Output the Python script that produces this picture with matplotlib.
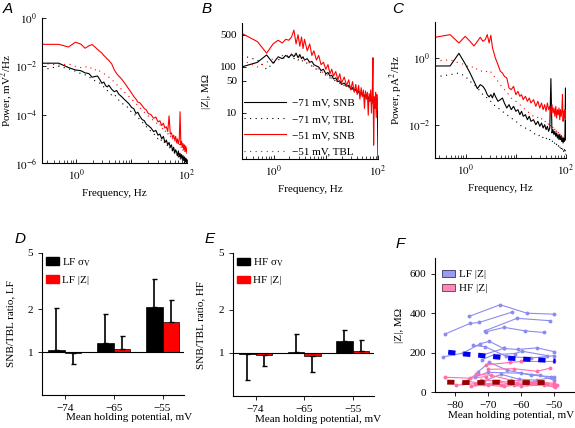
import numpy as np
import matplotlib
matplotlib.use("Agg")
import matplotlib.pyplot as plt
from matplotlib.patches import Patch
from matplotlib.ticker import NullFormatter, NullLocator, FixedLocator

plt.rcParams['font.family'] = ['Liberation Serif', 'DejaVu Serif']
plt.rcParams['mathtext.fontset'] = 'stix'
plt.rcParams['font.size'] = 8

# ---------------- data ----------------
# frequency grid of the spectra, Hz
freq = [0.244, 0.488, 0.732, 0.977, 1.22, 1.46, 1.71, 1.95, 2.2, 2.44, 2.69, 2.93, 3.17, 3.42, 3.66, 3.9,
        4.4, 4.9, 5.4, 5.9, 6.6, 7.3, 8.1, 9.0,
        10, 11, 12, 13, 14, 15.5, 17, 18.5, 20,
        22.5, 25, 27.5, 30, 32.5, 35, 37.5, 40, 42.5, 45, 47.5, 50, 52.5, 55, 57.5, 60,
        62.5, 65, 67.5, 70, 72.5, 75, 77.5, 80, 82.5, 85, 87.5, 90, 92.5, 95, 97.5, 100]

# panel A: log10 voltage power, mV^2/Hz
a_snb71 = [-1.87, -1.87, -2.05, -2.15, -2.18, -2.27, -2.3, -2.45, -2.42, -2.4, -2.55, -2.7, -2.65, -2.8, -2.85, -2.78,
           -2.95, -3.05, -3.0, -3.15, -3.25, -3.35, -3.45, -3.55,
           -3.7, -3.75, -3.95, -3.9, -4.05, -4.2, -4.25, -4.4, -4.45,
           -4.55, -4.7, -4.65, -4.85, -4.8, -5.0, -4.9, -5.15, -5.05, -5.25, -5.15, -5.35, -5.25, -5.5, -5.35, -5.6,
           -5.45, -5.55, -5.7, -5.5, -5.75, -5.6, -5.8, -5.65, -5.85, -5.7, -5.9, -5.75, -5.95, -5.8, -5.98, -5.85]
a_tbl71 = [-2.15, -2.0, -2.1, -2.2, -2.3, -2.35, -2.45, -2.5, -2.6, -2.65, -2.7, -2.8, -2.85, -2.9, -3.0, -3.05,
           -3.2, -3.15, -3.3, -3.4, -3.5, -3.6, -3.65, -3.75,
           -3.9, -3.95, -4.05, -4.1, -4.2, -4.3, -4.4, -4.5, -4.55,
           -4.7, -4.8, -4.85, -5.0, -4.95, -5.1, -5.05, -5.2, -5.3, -5.25, -5.4, -5.35, -5.5, -5.45, -5.6, -5.55,
           -5.65, -5.7, -5.6, -5.75, -5.7, -5.85, -5.8, -5.9, -5.85, -5.95, -5.9, -6.0, -5.95, -6.0, -5.98, -6.0]
a_snb51 = [-1.09, -1.09, -1.2, -1.0, -1.08, -1.25, -1.15, -1.1, -1.2, -1.3, -1.38, -1.45, -1.55, -1.62, -1.7, -1.75,
           -1.9, -2.15, -2.3, -2.4, -2.52, -2.65, -2.8, -2.95,
           -3.1, -3.25, -3.35, -3.48, -3.5, -3.62, -3.75, -3.8, -3.95,
           -4.0, -4.15, -4.1, -4.3, -4.25, -4.45, -4.35, -4.55, -4.5, -4.7, -4.05, -4.8, -4.75, -4.95, -4.85, -5.05,
           -4.9, -5.15, -5.0, -5.2, -5.05, -3.88, -5.25, -5.1, -5.35, -5.2, -5.45, -5.25, -5.5, -5.3, -5.55, -5.4]
a_tbl51 = [-1.87, -1.95, -1.9, -2.0, -2.05, -2.0, -2.1, -2.05, -2.15, -2.1, -2.2, -2.25, -2.3, -2.35, -2.4, -2.45,
           -2.55, -2.65, -2.75, -2.85, -2.95, -3.05, -3.15, -3.25,
           -3.35, -3.45, -3.55, -3.6, -3.7, -3.8, -3.9, -3.95, -4.05,
           -4.15, -4.25, -4.3, -4.45, -4.4, -4.6, -4.55, -4.7, -4.65, -4.8, -4.75, -4.9, -4.85, -5.0, -4.95, -5.1,
           -5.05, -5.2, -5.15, -5.25, -5.2, -5.35, -5.3, -5.4, -5.35, -5.5, -5.45, -5.55, -5.5, -5.6, -5.55, -5.65]

# panel B: log10 |Z|, MOhm
b_snb71 = [2.0, 2.1, 2.26, 2.08, 2.22, 2.18, 2.25, 2.2, 2.28, 2.22, 2.3, 2.2, 2.27, 2.18, 2.22, 2.15,
           2.18, 2.1, 2.12, 2.05, 2.02, 2.0, 1.92, 1.95,
           1.85, 1.88, 1.8, 1.82, 1.74, 1.76, 1.68, 1.7, 1.62,
           1.65, 1.58, 1.6, 1.52, 1.55, 1.48, 1.52, 1.44, 1.48, 1.4, 1.45, 1.38, 1.42, 1.35, 1.4, 1.32,
           1.38, 1.3, 1.35, 1.28, 1.33, 1.25, 1.3, 1.22, 1.28, 1.2, 1.26, 1.18, 1.24, 1.15, 1.2, 0.02]
b_tbl71 = [2.25, 2.15, 1.95, 2.08, 2.15, 2.2, 2.18, 2.22, 2.2, 2.18, 2.2, 2.15, 2.17, 2.12, 2.14, 2.1,
           2.08, 2.04, 2.02, 1.98, 1.95, 1.92, 1.88, 1.86,
           1.82, 1.8, 1.76, 1.75, 1.72, 1.7, 1.66, 1.65, 1.6,
           1.6, 1.55, 1.57, 1.5, 1.52, 1.46, 1.49, 1.42, 1.46, 1.38, 1.42, 1.36, 1.4, 1.33, 1.37, 1.3,
           1.35, 1.28, 1.32, 1.25, 1.3, 1.23, 1.28, 1.2, 1.25, 1.18, 1.23, 1.15, 1.2, 1.12, 1.18, 1.1]
b_snb51 = [2.73, 2.55, 2.3, 2.5, 2.58, 2.52, 2.6, 2.58, 2.65, 2.8, 2.5, 2.7, 2.45, 2.65, 2.4, 2.6,
           2.35, 2.5, 2.25, 2.35, 2.15, 2.25, 2.05, 2.1,
           1.95, 2.05, 1.85, 1.95, 1.8, 1.9, 1.72, 1.85, 1.65,
           1.78, 1.6, 1.72, 1.5, 1.68, 1.45, 1.62, 1.4, 1.6, 1.3, 1.55, 1.35, 1.5, 1.1, 1.48, 1.3,
           1.45, 0.95, 1.42, 1.25, 1.5, 1.0, 1.4, 2.2, 0.3, 1.35, 1.1, 1.45, 0.9, 1.4, 1.05, 1.3]
b_tbl51 = [2.15, 2.0, 2.1, 2.18, 2.2, 2.25, 2.22, 2.28, 2.25, 2.3, 2.25, 2.27, 2.22, 2.2, 2.18, 2.15,
           2.12, 2.08, 2.05, 2.0, 1.98, 1.95, 1.9, 1.88,
           1.84, 1.82, 1.78, 1.76, 1.74, 1.7, 1.68, 1.66, 1.62,
           1.62, 1.57, 1.59, 1.52, 1.55, 1.48, 1.51, 1.45, 1.48, 1.4, 1.44, 1.38, 1.42, 1.35, 1.39, 1.32,
           1.36, 1.3, 1.34, 1.27, 1.32, 1.25, 1.3, 1.22, 1.27, 1.2, 1.25, 1.17, 1.22, 1.15, 1.2, 1.12]

# panel C: log10 current power, pA^2/Hz
c_snb71 = [-0.24, -0.24, 0.14, -0.18, -0.45, -0.7, -0.92, -0.8, -0.85, -0.95, -1.1, -1.17, -1.1, -1.2, -1.05, -1.15,
           -1.3, -1.25, -1.2, -1.35, -1.5, -1.4, -1.55, -1.45,
           -1.6, -1.55, -1.7, -1.6, -1.75, -1.7, -1.85, -1.75, -1.9,
           -1.85, -2.0, -1.9, -2.05, -1.95, -2.1, -2.0, -2.15, -2.05, -2.2, -2.1, -0.62, -2.25, -2.15, -2.3, -2.2,
           -2.35, -2.25, -2.4, -2.3, -2.45, -2.3, -2.45, -2.35, -2.5, -2.4, -2.55, -2.4, -2.5, -2.45, -0.9, -2.45]
c_tbl71 = [-0.57, -0.5, -0.45, -0.55, -0.7, -0.8, -0.9, -1.0, -1.1, -1.15, -1.2, -1.25, -1.3, -1.35, -1.4, -1.45,
           -1.5, -1.55, -1.6, -1.65, -1.7, -1.75, -1.8, -1.85,
           -1.9, -1.95, -2.0, -2.05, -2.05, -2.1, -2.15, -2.15, -2.2,
           -2.25, -2.3, -2.28, -2.35, -2.32, -2.4, -2.36, -2.42, -2.4, -2.48, -2.44, -2.5, -2.46, -2.55, -2.5, -2.58,
           -2.52, -2.6, -2.56, -2.65, -2.6, -2.7, -2.62, -2.72, -2.66, -2.75, -2.68, -2.8, -2.7, -2.85, -2.75, -2.9]
c_snb51 = [0.62, 0.70, 0.45, 0.65, 0.5, 0.36, 0.5, 0.62, 0.5, 0.55, 0.7, 0.45, 0.68, 0.3, 0.15, 0.0,
           -0.2, -0.4, -0.45, -0.55, -0.6, -0.9, -0.95, -0.85,
           -1.1, -1.0, -1.15, -1.1, -1.25, -1.15, -1.3, -1.2, -1.35,
           -1.25, -1.45, -1.3, -1.5, -1.35, -1.55, -1.4, -1.6, -1.35, -1.55, -1.45, -1.7, -1.4, -1.65, -1.5, -1.75,
           -1.45, -1.8, -1.55, -1.7, -1.5, -1.85, -1.55, -1.75, -1.6, -1.1, -1.9, -1.6, -1.8, -1.55, -1.85, -1.65]
c_tbl51 = [-0.1, -0.05, -0.15, -0.2, -0.3, -0.25, -0.35, -0.4, -0.38, -0.42, -0.4, -0.45, -0.42, -0.5, -0.55, -0.6,
           -0.7, -0.8, -0.9, -0.95, -1.05, -1.1, -1.2, -1.25,
           -1.3, -1.35, -1.4, -1.45, -1.5, -1.55, -1.6, -1.65, -1.7,
           -1.75, -1.8, -1.78, -1.85, -1.82, -1.9, -1.88, -1.95, -1.92, -2.0, -1.95, -2.05, -2.0, -2.1, -2.05, -2.15,
           -2.1, -2.2, -2.15, -2.25, -2.2, -2.3, -2.25, -2.35, -2.3, -2.4, -2.35, -2.45, -2.4, -2.5, -2.45, -2.6]

# panels D and E: SNB/TBL ratios
potentials = ['\u221274', '\u221265', '\u221255']
lf_sigma = [1.03, 1.156, 2.08]
lf_sigma_err = [2.04, 1.84, 3.27]
lf_z = [0.98, 1.05, 1.62]
lf_z_err = [0.82, 1.30, 2.34]
hf_sigma = [0.985, 1.016, 1.21]
hf_sigma_err = [0.65, 1.35, 1.44]
hf_z = [0.96, 0.95, 1.04]
hf_z_err = [0.81, 0.74, 1.23]

# panel F: |Z| of single cells vs holding potential
lf_cells = [
    ([-75.6, -66.2, -58.1, -49.9], [384, 443, 400, 395]),
    ([-83.1, -75.4, -72.6, -62.7], [293, 348, 353, 405]),
    ([-70.6, -65.0, -58.6, -53.0], [305, 328, 310, 302]),
    ([-70.8, -61.1, -51.2], [311, 374, 362]),
    ([-83.6, -77.4, -72.3, -69.5, -65.2], [178, 198, 245, 257, 221]),
    ([-74.4, -70.8, -64.4, -57.0, -49.9], [236, 230, 181, 172, 184]),
    ([-72.0, -65.2, -60.9, -55.0, -49.9], [185, 221, 216, 224, 205]),
    ([-71.8, -68.0, -61.6, -59.6, -52.0], [164, 190, 195, 207, 185]),
    ([-72.9, -69.5, -64.0, -57.0, -50.9], [103, 150, 110, 86, 78]),
    ([-74.0, -70.0, -60.0, -54.0, -50.0], [75, 100, 95, 85, 60]),
    ([-71.0, -66.0, -60.5, -55.0, -50.0], [55, 90, 65, 60, 75]),
]
hf_cells = [
    ([-83.0, -75.5, -70.5], [75, 70, 78]),
    ([-70.5, -63.2, -60.0, -50.0], [138, 150, 155, 155]),
    ([-70.0, -62.0, -55.0, -51.0], [115, 118, 105, 121]),
    ([-79.5, -74.0, -66.0, -60.0, -53.0, -49.5], [35, 42, 38, 30, 35, 25]),
    ([-77.5, -73.5, -69.0, -63.0, -56.0, -50.0], [45, 90, 85, 60, 50, 45]),
    ([-75.0, -70.0, -65.0, -58.0, -50.0], [30, 35, 28, 42, 30]),
    ([-72.0, -66.5, -61.0, -55.0, -49.0], [60, 55, 45, 50, 35]),
    ([-76.0, -71.0, -67.0, -62.0, -57.0, -52.0], [55, 40, 50, 38, 45, 40]),
]
lf_mean_v = [-82.0, -77.4, -72.3, -67.6, -62.9, -57.9, -53.2, -49.4]
lf_mean_z = [202, 193, 186, 178, 171, 166, 162, 157]
hf_mean_v = [-82.3, -77.0, -72.3, -67.6, -62.8, -58.0, -52.7]
hf_mean_z = [50, 48, 48, 50, 48, 48, 48]

# ---------------- figure ----------------
W, H = 575, 428
fig = plt.figure(figsize=(W / 100, H / 100), dpi=100)


def add_ax(left, top, right, bottom):
    ax = fig.add_axes([left / W, 1 - bottom / H, (right - left) / W, (bottom - top) / H])
    ax.spines['top'].set_visible(False)
    ax.spines['right'].set_visible(False)
    return ax


def spectrum_axes(ax):
    ax.set_xscale('log')
    ax.set_yscale('log')
    ax.set_xlim(0.244, 100)
    ax.set_xticks([1, 10, 100])
    ax.set_xticklabels(['$10^0$', '', '$10^2$'])
    ax.xaxis.set_minor_locator(FixedLocator([0.3, 0.4, 0.5, 0.6, 0.7, 0.8, 0.9,
                                             2, 3, 4, 5, 6, 7, 8, 9,
                                             20, 30, 40, 50, 60, 70, 80, 90]))
    ax.xaxis.set_minor_formatter(NullFormatter())
    ax.yaxis.set_minor_locator(NullLocator())
    ax.tick_params(direction='in', length=3, width=0.6, labelsize=8)
    ax.tick_params(which='minor', direction='in', length=2, width=0.5)
    ax.set_xlabel('Frequency, Hz', fontsize=8)


f = np.array(freq)
dotted = (0, (1, 4))

# A
ax = add_ax(42, 18, 187, 163)
ax.plot(f, 10 ** np.array(a_tbl71), color='k', lw=0.8, ls=dotted)
ax.plot(f, 10 ** np.array(a_tbl51), color='red', lw=0.8, ls=dotted)
ax.plot(f, 10 ** np.array(a_snb71), color='k', lw=0.8)
ax.plot(f, 10 ** np.array(a_snb51), color='red', lw=0.8)
spectrum_axes(ax)
ax.set_ylim(1e-6, 1)
ax.set_yticks([1, 1e-2, 1e-4, 1e-6])
ax.set_yticklabels(['$10^0$', '$10^{-2}$', '$10^{-4}$', '$10^{-6}$'])
ax.set_ylabel('Power, mV$^2$/Hz', fontsize=8)
ax.yaxis.set_label_coords(-0.185, 0.5)

# B
ax = add_ax(241.7, 23, 378, 159)
l1, = ax.plot(f, 10 ** np.array(b_snb71), color='k', lw=0.8)
l2, = ax.plot(f, 10 ** np.array(b_tbl71), color='k', lw=0.8, ls=dotted)
l3, = ax.plot(f, 10 ** np.array(b_snb51), color='red', lw=0.8)
l4, = ax.plot(f, 10 ** np.array(b_tbl51), color='red', lw=0.8, ls=dotted)
spectrum_axes(ax)
ax.set_ylim(1, 900)
ax.set_yticks([10, 50, 100, 500])
ax.set_yticklabels(['10', '50', '100', '500'])
ax.set_ylabel('|Z|, M\u03a9', fontsize=8)
ax.yaxis.set_label_coords(-0.225, 0.5)
ax.legend([l1, l2, l3, l4],
          ['\u221271 mV, SNB', '\u221271 mV, TBL', '\u221251 mV, SNB', '\u221251 mV, TBL'],
          loc='lower left', bbox_to_anchor=(0, 0), frameon=False, fontsize=8,
          handlelength=3.8, handletextpad=0.5, labelspacing=0.6, borderaxespad=0.0, borderpad=0.2)

# C
ax = add_ax(435, 22, 566, 158)
ax.plot(f, 10 ** np.array(c_tbl71), color='k', lw=0.8, ls=dotted)
ax.plot(f, 10 ** np.array(c_tbl51), color='red', lw=0.8, ls=dotted)
ax.plot(f, 10 ** np.array(c_snb71), color='k', lw=0.8)
ax.plot(f, 10 ** np.array(c_snb51), color='red', lw=0.8)
spectrum_axes(ax)
ax.set_ylim(1e-3, 12)
ax.set_yticks([1, 1e-2])
ax.set_yticklabels(['$10^0$', '$10^{-2}$'])
ax.set_ylabel('Power, pA$^2$/Hz', fontsize=8)
ax.yaxis.set_label_coords(-0.229, 0.5)


def ratio_panel(ax, black, black_err, red, red_err, tag, xlab_x, ylab_x):
    x = np.arange(len(potentials))
    w = 0.34
    for xs, vals, errs, col in [(x - w / 2, black, black_err, 'black'), (x + w / 2, red, red_err, 'red')]:
        vals = np.array(vals)
        errs = np.array(errs)
        ax.bar(xs, vals - 1, bottom=1, width=w, color=col, edgecolor='black', linewidth=0.5)
        lower = np.where(errs < vals, vals - errs, 0)
        upper = np.where(errs > vals, errs - vals, 0)
        ax.errorbar(xs, vals, yerr=[lower, upper], fmt='none', ecolor='black',
                    elinewidth=1.2, capsize=1.8, capthick=1.0)
    ax.axhline(1, color='black', lw=0.8)
    ax.set_yscale('log')
    ax.set_ylim(0.5, 5)
    ax.set_yticks([1, 2, 5])
    ax.set_yticklabels(['1', '2', '5'])
    ax.yaxis.set_minor_locator(NullLocator())
    ax.set_xlim(-0.46, 2.44)
    ax.set_xticks(x)
    ax.set_xticklabels(potentials)
    ax.tick_params(direction='out', length=3, width=0.6, labelsize=8)
    ax.set_xlabel('Mean holding potential, mV', fontsize=8)
    ax.xaxis.set_label_coords(xlab_x, -0.13)
    ax.set_ylabel('SNB/TBL ratio, ' + tag, fontsize=8)
    ax.yaxis.set_label_coords(ylab_x, 0.5)
    ax.legend([Patch(facecolor='black', edgecolor='black'), Patch(facecolor='red', edgecolor='red')],
              [tag + ' \u03c3$_{\\mathrm{V}}$', tag + ' |Z|'], loc='upper left', bbox_to_anchor=(0, 1),
              frameon=False, fontsize=8, handlelength=1.2, handleheight=0.7,
              handletextpad=0.3, labelspacing=0.6, borderaxespad=0.0, borderpad=0.3)


ax = add_ax(42.3, 252.7, 184, 395)
ratio_panel(ax, lf_sigma, lf_sigma_err, lf_z, lf_z_err, 'LF', 0.615, -0.193)
ax = add_ax(233.3, 253, 374, 396)
ratio_panel(ax, hf_sigma, hf_sigma_err, hf_z, hf_z_err, 'HF', 0.605, -0.201)

# F
ax = add_ax(435, 258, 575, 392)
for v, z in lf_cells:
    ax.plot(v, z, color='#8c8cf0', lw=0.8, marker='o', ms=2.8, mec='none')
for v, z in hf_cells:
    ax.plot(v, z, color='#ff6ea8', lw=0.8, marker='o', ms=2.8, mec='none')
ax.plot(lf_mean_v, lf_mean_z, color='#0000ee', lw=3.5, ls=(0, (1.5, 1.6)))
ax.plot(hf_mean_v, hf_mean_z, color='#990000', lw=3.5, ls=(0, (1.5, 1.6)))
ax.set_xlim(-86, -43.5)
ax.set_ylim(0, 680)
ax.set_xticks([-80, -70, -60, -50])
ax.set_yticks([0, 200, 400, 600])
ax.tick_params(direction='out', length=3, width=0.6, labelsize=8)
ax.set_xlabel('Mean holding potential, mV', fontsize=8)
ax.xaxis.set_label_coords(0.543, -0.14)
ax.set_ylabel('|Z|, M\u03a9', fontsize=8)
ax.yaxis.set_label_coords(-0.221, 0.5)
ax.legend([Patch(facecolor='#9a9af0', edgecolor='#333366', lw=0.6),
           Patch(facecolor='#ff88bb', edgecolor='#663344', lw=0.6)],
          ['LF |Z|', 'HF |Z|'], loc='upper left', bbox_to_anchor=(0, 0.96),
          frameon=False, fontsize=8, handlelength=1.2, handleheight=0.6,
          handletextpad=0.4, labelspacing=0.4, borderaxespad=0.2)

# panel letters
for letter, x, y in [('A', 3, 2), ('B', 202, 2), ('C', 392, 2),
                     ('D', 15, 232), ('E', 205, 232), ('F', 396, 237)]:
    fig.text(x / W, 1 - y / H, letter, fontsize=11, fontstyle='italic',
             family=['Liberation Sans', 'DejaVu Sans'], va='top', ha='left')

fig.savefig('out.png', dpi=100)
